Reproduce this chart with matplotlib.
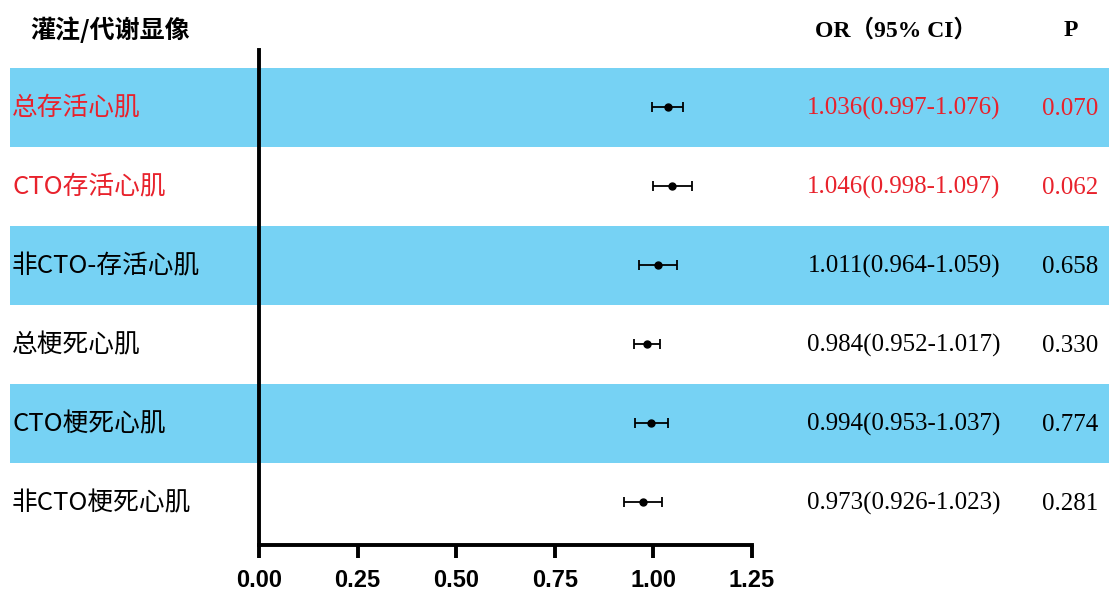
import matplotlib
matplotlib.use("Agg")
import matplotlib.pyplot as plt
import matplotlib.transforms as mtransforms
from matplotlib.patches import Rectangle

# Subgroups, odds ratios with 95% CI and P values
labels = ["总存活心肌", "CTO存活心肌", "非CTO-存活心肌", "总梗死心肌", "CTO梗死心肌", "非CTO梗死心肌"]
or_vals = [1.036, 1.046, 1.011, 0.984, 0.994, 0.973]
ci_low = [0.997, 0.998, 0.964, 0.952, 0.953, 0.926]
ci_high = [1.076, 1.097, 1.059, 1.017, 1.037, 1.023]
p_vals = ["0.070", "0.062", "0.658", "0.330", "0.774", "0.281"]
highlight = [True, True, False, False, False, False]
x_ticks = [0.00, 0.25, 0.50, 0.75, 1.00, 1.25]

W, H = 1109, 592
fig = plt.figure(figsize=(W / 100, H / 100), dpi=100)
fig.patch.set_facecolor("white")

# geometry in pixels
ax_left, ax_right = 259, 752
ax_top, ax_bottom = 50, 545
row0, row_step = 107, 79

ax = fig.add_axes([ax_left / W, 1 - ax_bottom / H,
                   (ax_right - ax_left) / W, (ax_bottom - ax_top) / H])
ax.set_facecolor("none")
ax.set_xlim(x_ticks[0], x_ticks[-1])
y_top = (ax_top - row0) / row_step
y_bot = (ax_bottom - row0) / row_step
ax.set_ylim(y_bot, y_top)

band_color = "#76D2F4"
red = "#E8222C"
cjk = ["Noto Sans CJK SC", "DejaVu Sans"]
serif = ["Liberation Serif", "Noto Sans CJK SC"]

# alternating row bands across the figure width
band_tr = mtransforms.blended_transform_factory(fig.transFigure, ax.transData)
for i in range(len(labels)):
    if i % 2 == 0:
        ax.add_patch(Rectangle((10 / W, i - 0.5), 1 - 10 / W, 1.0,
                               transform=band_tr, facecolor=band_color,
                               edgecolor="none", clip_on=False, zorder=0))

ys = list(range(len(labels)))
xerr = [[o - l for o, l in zip(or_vals, ci_low)],
        [h - o for o, h in zip(or_vals, ci_high)]]
ax.errorbar(or_vals, ys, xerr=xerr, fmt="o", color="black", ms=5,
            elinewidth=1.3, capsize=3.5, capthick=1.3, zorder=3)

# axes styling
for s in ["top", "right"]:
    ax.spines[s].set_visible(False)
for s in ["left", "bottom"]:
    ax.spines[s].set_linewidth(2.8)
    ax.spines[s].set_zorder(4)
ax.set_yticks([])
ax.set_xticks(x_ticks)
ax.set_xticklabels([f"{t:.2f}" for t in x_ticks])
ax.tick_params(axis="x", length=9, width=2.8, pad=8)
for lab in ax.get_xticklabels():
    lab.set_fontfamily("Liberation Sans")
    lab.set_fontweight("bold")
    lab.set_fontsize(17)

# text columns
lab_tr = mtransforms.blended_transform_factory(fig.transFigure, ax.transData)
for i, (lab, orv, lo, hi, p, hl) in enumerate(zip(labels, or_vals, ci_low, ci_high, p_vals, highlight)):
    col = red if hl else "black"
    ax.text(12 / W, i + 0.02, lab, transform=lab_tr, ha="left", va="center",
            fontsize=18.5, family=cjk, color=col)
    ax.text(904 / W, i + 0.02, f"{orv:.3f}({lo:.3f}-{hi:.3f})", transform=lab_tr,
            ha="center", va="center", fontsize=18, family=serif, color=col)
    ax.text(1070 / W, i + 0.02, p, transform=lab_tr, ha="center", va="center",
            fontsize=18, family=serif, color=col)

fig.text(30 / W, 1 - 30 / H, "灌注/代谢显像", ha="left", va="center",
         fontsize=18, family=cjk, fontweight="bold")
fig.text(896 / W, 1 - 30 / H, "OR（95% CI）", ha="center", va="center",
         fontsize=17, family=serif, fontweight="bold")
fig.text(1071 / W, 1 - 30 / H, "P", ha="center", va="center",
         fontsize=17, family=serif, fontweight="bold")

fig.savefig("out.png", dpi=100)
